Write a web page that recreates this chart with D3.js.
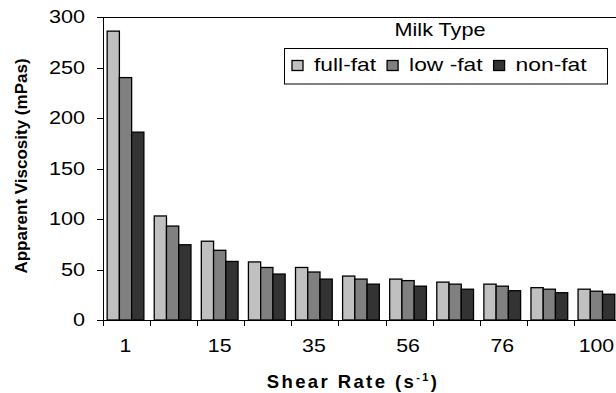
<!DOCTYPE html>
<html lang="en">
<head>
    <meta charset="UTF-8">
    <title>Apparent Viscosity by Shear Rate</title>
    <script src="https://d3js.org/d3.v7.min.js"></script>
    <style>
        body { margin: 0; background: #fff; }
        svg { font-family: "Liberation Sans", Arial, sans-serif; }
        .axis path, .axis line { stroke: #000; shape-rendering: crispEdges; }
        .axis text { font-size: 18.5px; fill: #000; }
    </style>
</head>
<body>
    <script>
        // data
        const tickLabels = ['1', '', '15', '', '35', '', '56', '', '76', '', '100'];
        const milkTypes = ['full-fat', 'low -fat', 'non-fat'];
        const fullFat = [286, 103, 78, 57.5, 52, 43.5, 40.5, 37.5, 35.5, 32, 30.5];
        const lowFat  = [240, 93, 69, 52, 47.5, 40.5, 39, 35.5, 33.5, 30.5, 28.5];
        const nonFat  = [186, 74.5, 58, 45.5, 40.5, 35.5, 33.5, 30.5, 29, 27, 25.5];
        const yTicks = [0, 50, 100, 150, 200, 250, 300];
        const colors = ['#c0c0c0', '#808080', '#333333'];

        const series = [fullFat, lowFat, nonFat];
        const width = 616, height = 393;
        const plot = {left: 103, top: 17, right: 621, bottom: 320};

        const svg = d3.select('body').append('svg')
            .attr('width', width)
            .attr('height', height);

        // widen text horizontally, the picture is a bit stretched
        function stretch(sel, k) {
            sel.each(function() {
                const len = this.getComputedTextLength();
                if (len > 0) {
                    d3.select(this)
                        .attr('textLength', len * k)
                        .attr('lengthAdjust', 'spacingAndGlyphs');
                }
            });
        }

        const idx = d3.range(tickLabels.length);

        const x = d3.scaleBand()
            .domain(idx)
            .range([plot.left, plot.right])
            .paddingInner(0.22)
            .paddingOuter(0.11)
            .align(0.4);

        const xInner = d3.scaleBand()
            .domain(d3.range(series.length))
            .range([0, x.bandwidth()]);

        const xEdge = d3.scaleLinear()
            .domain([0, tickLabels.length])
            .range([plot.left, plot.right]);

        const y = d3.scaleLinear()
            .domain([0, 300])
            .range([plot.bottom, plot.top]);

        // plot frame (top / right)
        svg.append('rect')
            .attr('x', plot.left + 0.5)
            .attr('y', plot.top + 0.5)
            .attr('width', plot.right - plot.left)
            .attr('height', plot.bottom - plot.top)
            .attr('fill', 'none')
            .attr('stroke', '#000')
            .attr('stroke-width', 1);

        // bars
        const groups = svg.selectAll('.group')
            .data(idx)
            .enter().append('g')
            .attr('class', 'group')
            .attr('transform', i => `translate(${x(i)},0)`);

        groups.selectAll('rect')
            .data(i => series.map((s, j) => ({j: j, v: s[i]})))
            .enter().append('rect')
            .attr('x', d => xInner(d.j))
            .attr('y', d => y(d.v))
            .attr('width', xInner.bandwidth())
            .attr('height', d => y(0) - y(d.v))
            .attr('fill', d => colors[d.j])
            .attr('stroke', '#000')
            .attr('stroke-width', 1.3);

        // y axis
        const yAxis = svg.append('g')
            .attr('class', 'axis')
            .attr('transform', `translate(${plot.left},0)`)
            .call(d3.axisLeft(y).tickValues(yTicks).tickSize(6).tickSizeOuter(0).tickPadding(12));
        stretch(yAxis.selectAll('text'), 1.17);

        // x axis: ticks on category edges, labels in the middle
        svg.append('g')
            .attr('class', 'axis')
            .attr('transform', `translate(0,${plot.bottom})`)
            .call(d3.axisBottom(xEdge).ticks(tickLabels.length).tickSize(6).tickSizeOuter(0).tickFormat(''));

        const xLab = svg.append('g')
            .attr('class', 'axis')
            .attr('transform', `translate(0,${plot.bottom})`)
            .call(d3.axisBottom(x).tickSize(0).tickPadding(19).tickFormat(i => tickLabels[i]));
        xLab.select('.domain').remove();
        stretch(xLab.selectAll('text'), 1.15);

        // axis titles
        svg.append('text')
            .attr('transform', 'translate(27,166) rotate(-90)')
            .attr('text-anchor', 'middle')
            .style('font-weight', 'bold')
            .style('font-size', '17px')
            .text('Apparent Viscosity (mPas)');

        const xTitle = svg.append('text')
            .attr('x', 353)
            .attr('y', 388)
            .attr('text-anchor', 'middle')
            .style('font-weight', 'bold')
            .style('font-size', '18.5px')
            .style('letter-spacing', '2.4px');
        xTitle.append('tspan').text('Shear Rate (s');
        xTitle.append('tspan').attr('dy', -7).style('font-size', '11px').text('-1');
        xTitle.append('tspan').attr('dy', 7).text(')');

        // legend
        const legend = svg.append('g').attr('class', 'legend');

        legend.append('text')
            .attr('x', 440)
            .attr('y', 36)
            .attr('text-anchor', 'middle')
            .style('font-size', '18.5px')
            .text('Milk Type')
            .call(stretch, 1.17);

        legend.append('rect')
            .attr('x', 284.5)
            .attr('y', 48.5)
            .attr('width', 323)
            .attr('height', 35.5)
            .attr('fill', '#fff')
            .attr('stroke', '#000')
            .attr('stroke-width', 1);

        let lx = 292;
        milkTypes.forEach((name, j) => {
            legend.append('rect')
                .attr('x', lx)
                .attr('y', 60.5)
                .attr('width', 11)
                .attr('height', 10)
                .attr('fill', colors[j])
                .attr('stroke', '#000')
                .attr('stroke-width', 1.3);
            const t = legend.append('text')
                .attr('x', lx + 22)
                .attr('y', 71)
                .style('font-size', '19px')
                .text(name);
            const w = t.node().getComputedTextLength() * 1.2;
            t.attr('textLength', w).attr('lengthAdjust', 'spacingAndGlyphs');
            lx += 22 + w + 11;
        });
    </script>
</body>
</html>
